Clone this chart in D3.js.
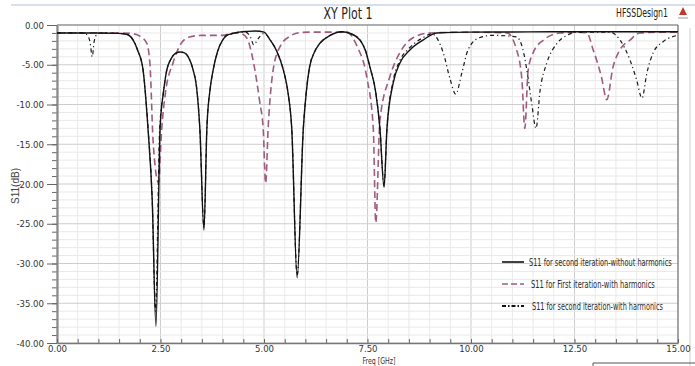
<!DOCTYPE html>
<html>
<head>
<meta charset="utf-8">
<script src="https://cdn.jsdelivr.net/npm/d3@7"></script>
<style>
body { margin: 0; background: #fff; }
svg { display: block; font-family: "Liberation Sans Narrow", "DejaVu Sans Condensed", Arial, sans-serif; }
</style>
</head>
<body>
<div id="chart"></div>
<script>
// tick values
var xTickVals = [0, 2.5, 5, 7.5, 10, 12.5, 15];
var yTickVals = [0, -5, -10, -15, -20, -25, -30, -35, -40];

var legendLabels = [
    "S11 for second iteration-without harmonics",
    "S11 for First iteration-with harmonics",
    "S11 for second iteration-with harmonics"
];

// S11 second iteration, without harmonics (solid)
var freqSolid = [0, 0.5, 1.0, 1.5, 1.7, 1.84, 1.95, 2.08, 2.2, 2.3, 2.39, 2.49, 2.57, 2.65, 2.75, 2.85, 2.97, 3.08, 3.17, 3.28, 3.37, 3.45, 3.55, 3.62, 3.7, 3.77, 3.88, 4.0, 4.1, 4.22, 4.4, 4.6, 4.8, 5.0, 5.15, 5.3, 5.47, 5.58, 5.67, 5.8, 5.95, 6.02, 6.1, 6.22, 6.35, 6.6, 6.88, 7.1, 7.32, 7.45, 7.56, 7.7, 7.8, 7.9, 7.97, 8.12, 8.28, 8.53, 8.84, 9.17, 10, 11, 12, 13, 14, 15];
var dbSolid = [-1.0, -1.0, -1.0, -1.05, -1.2, -1.9, -3.2, -5.7, -13.2, -22, -37.9, -13, -8.5, -5.7, -4.3, -3.6, -3.4, -3.5, -4.0, -5.5, -7.8, -13, -25.8, -13, -8, -5.7, -3.3, -1.9, -1.3, -1.1, -0.9, -0.8, -0.75, -0.9, -1.9, -3.2, -5.7, -8.5, -13, -31.8, -13, -8.5, -5.3, -3.4, -2.3, -1.3, -0.85, -1.1, -1.9, -3.2, -5.3, -8.5, -13, -20.4, -13, -7.3, -4.8, -3.1, -1.9, -1.0, -0.9, -0.88, -0.85, -0.85, -0.85, -0.85];

// S11 first iteration, with harmonics (dashed)
var freqDashed = [0, 1.0, 1.6, 1.84, 2.0, 2.17, 2.25, 2.32, 2.45, 2.53, 2.62, 2.8, 3.0, 3.2, 3.5, 4.0, 4.25, 4.45, 4.58, 4.75, 4.9, 4.98, 5.04, 5.1, 5.22, 5.39, 5.63, 5.87, 6.1, 6.5, 7.0, 7.25, 7.48, 7.64, 7.7, 7.8, 8.04, 8.28, 8.6, 9.0, 10, 10.87, 11.1, 11.23, 11.3, 11.38, 11.5, 11.75, 12.15, 12.5, 12.8, 12.95, 13.15, 13.28, 13.43, 13.6, 13.84, 14.08, 14.5, 15];
var dbDashed = [-1.0, -1.0, -1.0, -1.1, -1.4, -2.3, -5.3, -14.5, -19.8, -13, -8.5, -4.8, -2.3, -1.5, -1.3, -1.3, -1.0, -1.1, -1.6, -4.8, -9.8, -13, -19.9, -13, -5.7, -2.7, -1.4, -0.95, -0.9, -0.9, -0.9, -2.7, -6.5, -13, -24.9, -12, -6.5, -3.5, -1.6, -1.0, -0.9, -1.0, -3.1, -6.9, -13, -5.7, -3.5, -1.9, -1.0, -0.9, -1.0, -3.1, -6.5, -9.4, -5.3, -3.1, -1.9, -1.0, -0.9, -0.9];

// S11 second iteration, with harmonics (dash-dot)
var freqDashDot = [0, 0.6, 0.72, 0.8, 0.85, 0.9, 0.98, 1.1, 1.5, 1.7, 1.84, 1.95, 2.08, 2.2, 2.3, 2.38, 2.48, 2.57, 2.65, 2.75, 2.85, 2.97, 3.08, 3.17, 3.28, 3.37, 3.45, 3.55, 3.62, 3.7, 3.77, 3.88, 4.0, 4.1, 4.22, 4.4, 4.55, 4.68, 4.75, 4.85, 4.98, 5.05, 5.15, 5.3, 5.47, 5.58, 5.67, 5.8, 5.95, 6.02, 6.1, 6.22, 6.35, 6.6, 6.88, 7.1, 7.32, 7.45, 7.56, 7.7, 7.8, 7.9, 7.97, 8.12, 8.28, 8.53, 8.84, 9.05, 9.33, 9.5, 9.63, 9.78, 9.93, 10.2, 10.53, 11.1, 11.25, 11.35, 11.47, 11.57, 11.67, 11.83, 12.08, 12.32, 12.56, 13.36, 13.6, 13.84, 14.0, 14.13, 14.25, 14.4, 14.64, 15];
var dbDashDot = [-1.0, -1.0, -1.2, -2.2, -4.0, -2.0, -1.1, -1.0, -1.05, -1.2, -1.9, -3.2, -5.7, -13, -22, -36, -13, -8.5, -5.7, -4.3, -3.6, -3.4, -3.5, -4.0, -5.5, -7.8, -13, -25.5, -13, -8, -5.7, -3.3, -1.9, -1.3, -1.1, -0.9, -0.9, -1.6, -2.5, -1.8, -1.1, -1.2, -1.9, -3.2, -5.7, -8.5, -13, -31.5, -13, -8.5, -5.3, -3.4, -2.3, -1.3, -0.85, -1.1, -1.9, -3.2, -5.3, -8.5, -13, -20.2, -13, -7, -4.5, -2.8, -1.6, -1.1, -3.5, -6.9, -8.7, -6, -3.1, -1.6, -1.3, -1.5, -3, -5.7, -10, -13, -8.2, -4.8, -2.3, -1.3, -0.9, -0.9, -1.9, -4.4, -6.9, -9.2, -6, -3.5, -2.1, -1.3];

var width = 695, height = 366;
var plotL = 57, plotR = 678, plotT = 25, plotB = 343;

var x = d3.scaleLinear().domain([0, 15]).range([plotL, plotR]);
var y = d3.scaleLinear().domain([-40, 0]).range([plotB, plotT]);

var svg = d3.select("#chart").append("svg")
    .attr("width", width)
    .attr("height", height);

svg.append("rect").attr("width", width).attr("height", height).attr("fill", "#fff");

// squeeze a text horizontally so it spans w pixels from its anchor
function fitText(sel, px, py, w) {
    sel.attr("x", 0).attr("y", 0);
    var n = sel.node().getComputedTextLength();
    var s = Math.min(1, w / n);
    sel.attr("transform", "translate(" + px + "," + py + ") scale(" + s + ",1)");
}

// frame bits around the plot window
svg.append("line").attr("x1", 11).attr("x2", 695).attr("y1", 5).attr("y2", 5)
    .attr("stroke", "#c8d4e6").attr("stroke-width", 1.5);
svg.append("line").attr("x1", 690).attr("x2", 690).attr("y1", 28).attr("y2", 366)
    .attr("stroke", "#d0d0d0");
svg.append("path").attr("d", "M593,366V363H695")
    .attr("fill", "none").attr("stroke", "#555");

// grid
var minorX = d3.range(0, 15.01, 0.5);
var minorY = d3.range(-40, 0.01, 1);
var grid = svg.append("g");
grid.selectAll(".vx").data(minorX).enter().append("line")
    .attr("x1", function (d) { return x(d); })
    .attr("x2", function (d) { return x(d); })
    .attr("y1", plotT).attr("y2", plotB)
    .attr("stroke", function (d) { return d % 2.5 === 0 ? "#cdcdcd" : "#e9e9e9"; })
    .attr("stroke-width", 1);
grid.selectAll(".hy").data(minorY).enter().append("line")
    .attr("y1", function (d) { return y(d); })
    .attr("y2", function (d) { return y(d); })
    .attr("x1", plotL).attr("x2", plotR)
    .attr("stroke", function (d) { return d % 5 === 0 ? "#cdcdcd" : "#e9e9e9"; })
    .attr("stroke-width", 1);

// borders
svg.append("line").attr("x1", plotL).attr("x2", plotR).attr("y1", plotT).attr("y2", plotT)
    .attr("stroke", "#777").attr("stroke-width", 1.2);
svg.append("line").attr("x1", plotR).attr("x2", plotR).attr("y1", plotT).attr("y2", plotB)
    .attr("stroke", "#777").attr("stroke-width", 1.2);

// y axis
var yMinor = svg.append("g").attr("transform", "translate(" + plotL + ",0)")
    .call(d3.axisLeft(y).tickValues(minorY).tickSize(5).tickFormat(""));
yMinor.select(".domain").remove();
var yAxis = svg.append("g").attr("transform", "translate(" + plotL + ",0)")
    .call(d3.axisLeft(y).tickValues(yTickVals).tickSize(10).tickSizeOuter(0).tickPadding(3)
        .tickFormat(function (d) { return d.toFixed(2); }));
yAxis.select(".domain").attr("stroke", "#8a8a8a").attr("stroke-width", 2.2);
svg.selectAll(".tick line").attr("stroke", "#666");
yAxis.selectAll("text").attr("font-size", 9.5).attr("fill", "#333")
    .attr("font-family", "'Liberation Sans Narrow','DejaVu Sans Condensed',sans-serif");

// x axis
var xMinor = svg.append("g").attr("transform", "translate(0," + plotB + ")")
    .call(d3.axisBottom(x).tickValues(minorX).tickSize(-4).tickFormat(""));
xMinor.select(".domain").remove();
xMinor.selectAll(".tick line").attr("stroke", "#666");
var xAxis = svg.append("g").attr("transform", "translate(0," + plotB + ")")
    .call(d3.axisBottom(x).tickValues(xTickVals).tickSize(0).tickPadding(2)
        .tickFormat(function (d) { return d.toFixed(2); }));
xAxis.select(".domain").attr("stroke", "#777").attr("stroke-width", 1.5);
xAxis.selectAll("text").attr("font-size", 9.5).attr("fill", "#333")
    .attr("font-family", "'Liberation Sans Narrow','DejaVu Sans Condensed',sans-serif");

// curves
svg.append("clipPath").attr("id", "plotclip").append("rect")
    .attr("x", plotL).attr("y", plotT).attr("width", plotR - plotL).attr("height", plotB - plotT);

var line = d3.line()
    .x(function (d) { return x(d[0]); })
    .y(function (d) { return y(d[1]); })
    .curve(d3.curveMonotoneX);

var series = [
    { f: freqDashed, v: dbDashed, color: "#9e5c80", w: 1.6, dash: "7,4" },
    { f: freqDashDot, v: dbDashDot, color: "#1a1a1a", w: 1.2, dash: "4,3,1.2,3" },
    { f: freqSolid, v: dbSolid, color: "#111", w: 1.4, dash: null }
];

var plot = svg.append("g").attr("clip-path", "url(#plotclip)");
plot.selectAll("path.s").data(series).enter().append("path")
    .attr("class", "s")
    .attr("fill", "none")
    .attr("stroke", function (d) { return d.color; })
    .attr("stroke-width", function (d) { return d.w; })
    .attr("stroke-dasharray", function (d) { return d.dash; })
    .attr("d", function (d) { return line(d3.zip(d.f, d.v)); });

// legend
var legendStyles = [
    { color: "#111", w: 1.6, dash: null, y: 262, tx: 529, tl: 143 },
    { color: "#9e5c80", w: 1.6, dash: "6,3", y: 284, tx: 531, tl: 124 },
    { color: "#111", w: 2, dash: "4,2,1.5,2", y: 306, tx: 532, tl: 131 }
];
var legend = svg.append("g");
legend.selectAll("line").data(legendStyles).enter().append("line")
    .attr("x1", 502).attr("x2", 524)
    .attr("y1", function (d) { return d.y; }).attr("y2", function (d) { return d.y; })
    .attr("stroke", function (d) { return d.color; })
    .attr("stroke-width", function (d) { return d.w; })
    .attr("stroke-dasharray", function (d) { return d.dash; });
legendLabels.forEach(function (lbl, i) {
    var st = legendStyles[i];
    var t = legend.append("text")
        .attr("font-size", 10)
        .attr("font-family", "'DejaVu Sans Condensed',sans-serif")
        .attr("fill", "#2a2a2a")
        .text(lbl);
    fitText(t, st.tx, st.y + 3.5, st.tl);
});

// titles
var title = svg.append("text").attr("text-anchor", "middle")
    .attr("font-size", 16).attr("fill", "#222").text("XY Plot 1");
fitText(title, 348, 19, 49);
var design = svg.append("text").attr("text-anchor", "end")
    .attr("font-size", 11.5).attr("fill", "#222").text("HFSSDesign1");
fitText(design, 668, 17, 52);
svg.append("path").attr("d", "M683,7L679,15L687,15Z").attr("fill", "#c0392b");
svg.append("line").attr("x1", 678).attr("x2", 688).attr("y1", 18).attr("y2", 18)
    .attr("stroke", "#999").attr("stroke-width", 1);

svg.append("text")
    .attr("transform", "translate(19,186) rotate(-90)")
    .attr("text-anchor", "middle")
    .attr("font-family", "'Liberation Sans',Arial,sans-serif")
    .attr("font-size", 10).attr("fill", "#444").text("S11(dB)");
var xl = svg.append("text").attr("text-anchor", "middle")
    .attr("font-size", 9).attr("fill", "#333").text("Freq [GHz]");
fitText(xl, 379, 364, 33);
</script>
</body>
</html>
